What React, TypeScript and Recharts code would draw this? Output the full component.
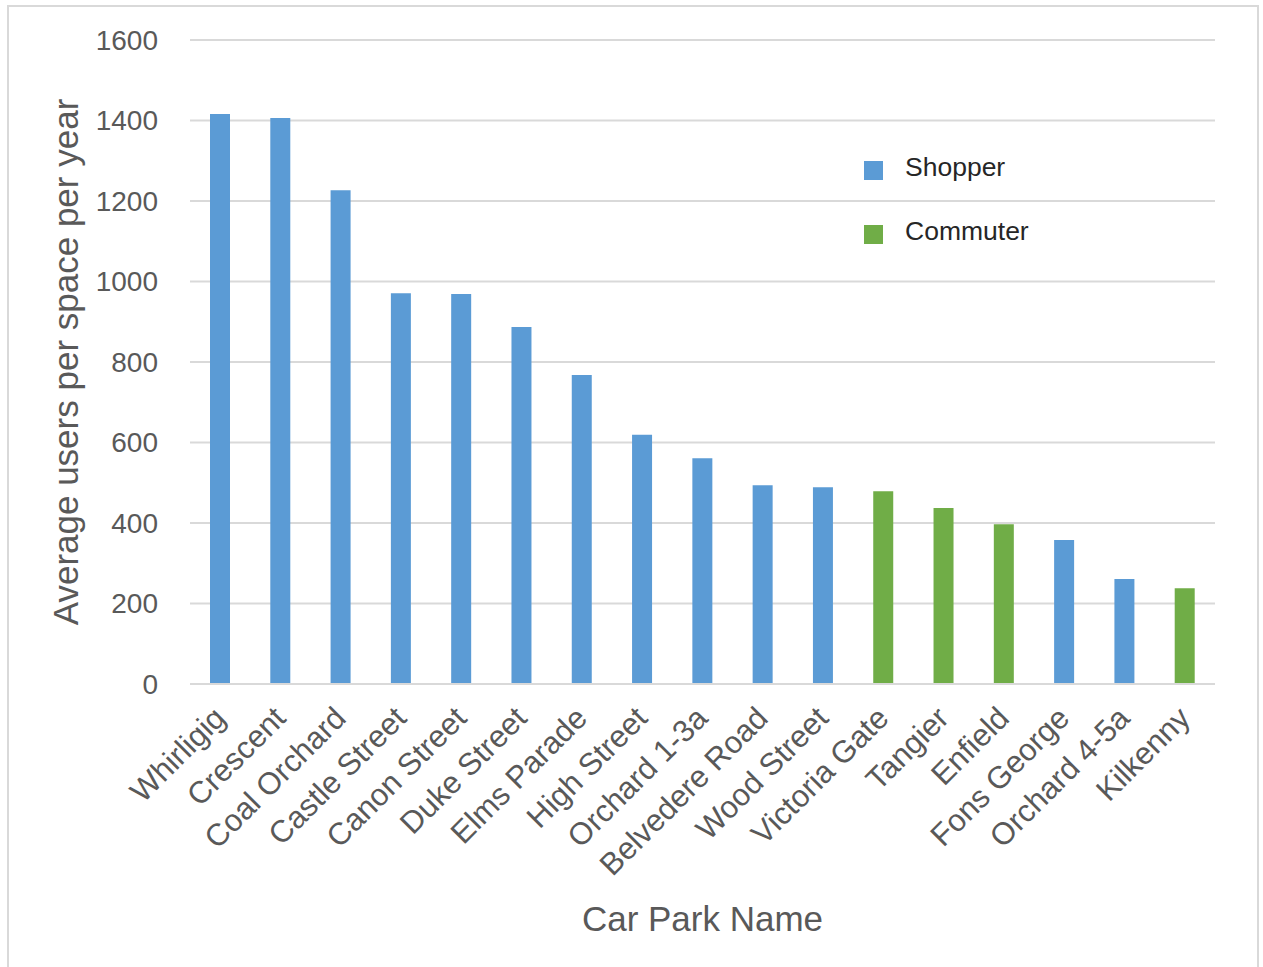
import { BarChart, Bar, XAxis, YAxis, CartesianGrid, Legend } from 'recharts';

const carParks = [
  'Whirligig', 'Crescent', 'Coal Orchard', 'Castle Street', 'Canon Street', 'Duke Street',
  'Elms Parade', 'High Street', 'Orchard 1-3a', 'Belvedere Road', 'Wood Street',
  'Victoria Gate', 'Tangier', 'Enfield', 'Fons George', 'Orchard 4-5a', 'Kilkenny',
];
const shopper = [1416, 1406, 1227, 971, 969, 887, 768, 619, 561, 494, 489, null, null, null, 358, 261, null];
const commuter = [null, null, null, null, null, null, null, null, null, null, null, 479, 437, 397, null, null, 238];
const yTicks = [0, 200, 400, 600, 800, 1000, 1200, 1400, 1600];
const seriesOrder = ['Shopper', 'Commuter'];

const SHOPPER = '#5b9bd5';
const COMMUTER = '#70ad47';
const TEXT = '#595959';
const FONT = '"Liberation Sans", Arial, sans-serif';

const chartData = carParks.map((name, i) => ({
  name,
  Shopper: shopper[i],
  Commuter: commuter[i],
}));

const XTick = ({ x, y, payload }: any) => (
  <text
    x={x + 7}
    y={y + 28}
    transform={`rotate(-45, ${x + 7}, ${y + 28})`}
    textAnchor="end"
    fill={TEXT}
    fontSize={31}
    fontFamily={FONT}
  >
    {payload.value}
  </text>
);

// legend in the order the series are listed, not alphabetical
const LegendBox = ({ payload }: any) => {
  const items = [...(payload || [])].sort(
    (a: any, b: any) => seriesOrder.indexOf(a.value) - seriesOrder.indexOf(b.value)
  );
  return (
    <div>
      {items.map((p: any) => (
        <div key={p.value} style={{ display: 'flex', alignItems: 'center', height: 64 }}>
          <span style={{ display: 'inline-block', width: 19, height: 19, background: p.color, marginRight: 22 }} />
          <span style={{ fontFamily: FONT, fontSize: 26.5, color: '#262626', position: 'relative', top: -3 }}>{p.value}</span>
        </div>
      ))}
    </div>
  );
};

const App = () => {
  return (
    <div style={{ position: 'absolute', left: 0, top: 0, width: 1263, height: 967, background: '#fff' }}>
      <div
        style={{
          position: 'absolute', left: 7, top: 5, width: 1252, height: 970,
          border: '2px solid #d9d9d9', boxSizing: 'border-box',
        }}
      />
      <BarChart
        width={1263}
        height={967}
        data={chartData}
        margin={{ top: 40, right: 48, left: 0, bottom: 0 }}
      >
        <CartesianGrid vertical={false} stroke="#d9d9d9" strokeWidth={2} />
        <XAxis
          dataKey="name"
          height={283}
          interval={0}
          tick={<XTick />}
          tickLine={false}
          axisLine={{ stroke: '#d9d9d9', strokeWidth: 2 }}
          label={{ value: 'Car Park Name', position: 'insideBottom', offset: 36, fill: TEXT, fontSize: 35, fontFamily: FONT }}
        />
        <YAxis
          width={190}
          domain={[0, 1600]}
          ticks={yTicks}
          tickLine={false}
          axisLine={false}
          tickMargin={26}
          tick={{ fill: TEXT, fontSize: 28, fontFamily: FONT }}
          label={{
            value: 'Average users per space per year', angle: -90, position: 'insideLeft',
            offset: 66, fill: TEXT, fontSize: 35, fontFamily: FONT, style: { textAnchor: 'middle' },
          }}
        />
        <Legend
          layout="vertical"
          content={<LegendBox />}
          wrapperStyle={{ position: 'absolute', left: 864, top: 138, width: 220, height: 0, overflow: 'visible' }}
        />
        <Bar dataKey="Shopper" stackId="a" fill={SHOPPER} barSize={20} isAnimationActive={false} />
        <Bar dataKey="Commuter" stackId="a" fill={COMMUTER} barSize={20} isAnimationActive={false} />
      </BarChart>
    </div>
  );
};

export default App;
